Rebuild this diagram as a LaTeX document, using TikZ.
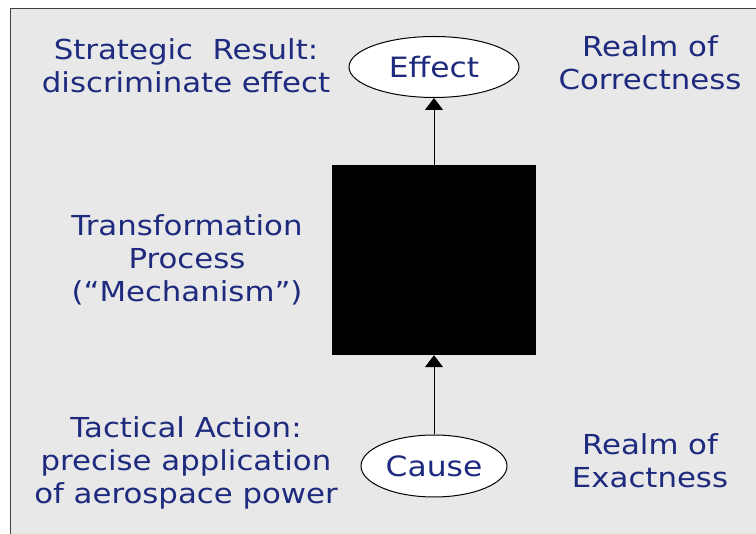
\documentclass[tikz,border=0pt]{standalone}
\usepackage{fontspec}
\setmainfont[FakeStretch=1.12]{DejaVu Sans}
\usetikzlibrary{shapes.geometric,arrows.meta}
\definecolor{panel}{HTML}{E8E8E8}
\definecolor{ink}{HTML}{1E2A7E}
\begin{document}
\begin{tikzpicture}[x=1pt,y=-1pt,
  label/.style={text=ink,font=\fontsize{27.5}{33}\selectfont,align=center,inner sep=0pt},
  oval/.style={ellipse,draw=black,line width=1pt,fill=white,text=ink,font=\fontsize{28}{30}\selectfont,inner sep=0pt},
  link/.style={line width=1pt,-{Triangle[width=18pt,length=12pt]}}]
\useasboundingbox (0,0) rectangle (756,534);
\fill[white] (0,0) rectangle (756,534);
\fill[panel] (10,8) rectangle (760,540);
\draw[line width=1.5pt,black!75] (10.5,540) -- (10.5,8.5) -- (760,8.5);
% outcome and origin
\node[oval,minimum width=170pt,minimum height=61pt] (effect) at (434,67) {Effect};
\node[oval,minimum width=146pt,minimum height=62pt] (cause) at (434,466) {Cause};
% the mechanism as a black box
\node[fill=black,minimum width=204pt,minimum height=190pt,inner sep=0pt] (box) at (434,260) {};
\draw[link] (box.north) -- (effect.south);
\draw[link] (cause.north) -- (box.south);
% side captions
\node[label] (strat) at (186,66) {Strategic\ \ Result:\\discriminate effect};
\node[label] (trans) at (187,260) {Transformation\\Process\\(“Mechanism”)};
\node[label] (tact) at (186,463) {Tactical Action:\\precise application\\of aerospace power};
\node[label] (corr) at (650,63) {Realm of\\Correctness};
\node[label] (exact) at (650,461) {Realm of\\Exactness};
\end{tikzpicture}
\end{document}
